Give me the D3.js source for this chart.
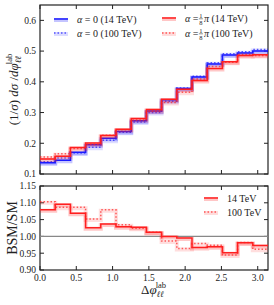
<!DOCTYPE html>
<html>
<head>
<meta charset="utf-8">
<script src="https://cdn.jsdelivr.net/npm/d3@7"></script>
<style>
  body { margin: 0; background: #fff; }
  svg text { font-family: "Liberation Serif", "DejaVu Serif", serif; fill: #222; }
</style>
</head>
<body>
<div id="chart"></div>
<script>
    // 数据
    var nBins = 15;
    var xTicks = [0.0, 0.5, 1.0, 1.5, 2.0, 2.5, 3.0];
    var yTopTicks = [0.1, 0.2, 0.3, 0.4, 0.5, 0.6];
    var yBotTicks = [0.90, 0.95, 1.00, 1.05, 1.10, 1.15];
    var blue14  = [0.137, 0.145, 0.171, 0.195, 0.216, 0.238, 0.273, 0.305, 0.342, 0.378, 0.416, 0.458, 0.487, 0.494, 0.500];
    var blue100 = [0.140, 0.152, 0.168, 0.187, 0.210, 0.236, 0.269, 0.300, 0.337, 0.380, 0.418, 0.462, 0.491, 0.498, 0.505];
    var red14   = [0.149, 0.158, 0.186, 0.201, 0.225, 0.246, 0.281, 0.310, 0.343, 0.376, 0.404, 0.443, 0.465, 0.486, 0.488];
    var red100  = [0.155, 0.166, 0.183, 0.197, 0.226, 0.244, 0.276, 0.304, 0.333, 0.366, 0.409, 0.450, 0.464, 0.489, 0.486];
    var ratio14  = [1.079, 1.096, 1.069, 1.026, 1.037, 1.029, 1.027, 1.012, 1.000, 0.995, 0.967, 0.969, 0.951, 0.981, 0.973];
    var ratio100 = [1.103, 1.087, 1.087, 1.052, 1.079, 1.035, 1.024, 1.012, 0.986, 0.964, 0.979, 0.974, 0.945, 0.982, 0.962];

    var BLUE = "#1a1aff", RED = "#ff1f1f";

    var svg = d3.select("#chart").append("svg").attr("width", 274).attr("height", 305);

    var x = d3.scaleLinear().domain([0, Math.PI]).range([40, 268]);
    var yTop = d3.scaleLinear().domain([0.1, 0.65]).range([174, 5]);
    var yBot = d3.scaleLinear().domain([0.9, 1.15]).range([270, 186]);

    function stepPoints(vals) {
      var pts = vals.map(function(v, i) { return [i * Math.PI / nBins, v]; });
      pts.push([Math.PI, vals[vals.length - 1]]);
      return pts;
    }

    function drawStep(g, y, vals, color, dotted) {
      var line = d3.line().curve(d3.curveStepAfter)
        .x(function(d) { return x(d[0]); })
        .y(function(d) { return y(d[1]); });
      var pts = stepPoints(vals);
      // 光晕
      g.append("path").attr("d", line(pts)).attr("fill", "none")
        .attr("stroke", color).attr("stroke-width", 4).attr("opacity", dotted ? 0.15 : 0.25)
        .attr("transform", "translate(0,1)");
      g.append("path").attr("d", line(pts)).attr("fill", "none")
        .attr("stroke", color).attr("stroke-width", 1.5)
        .attr("opacity", dotted ? 0.7 : 1)
        .attr("stroke-dasharray", dotted ? "1.5,2" : null);
    }

    function frame(y, y0, y1, ticks, fmt, showX) {
      var g = svg.append("g");
      g.append("rect").attr("x", 40).attr("y", y0).attr("width", 228).attr("height", y1 - y0)
        .attr("fill", "none").attr("stroke", "#222").attr("stroke-width", 1.2);
      g.selectAll(".xt").data(xTicks).enter().append("path")
        .attr("d", function(d) { return "M" + x(d) + "," + y1 + "v-4M" + x(d) + "," + y0 + "v4"; })
        .attr("stroke", "#222").attr("stroke-width", 1);
      g.selectAll(".yt").data(ticks).enter().append("path")
        .attr("d", function(d) { return "M40," + y(d) + "h4M268," + y(d) + "h-4"; })
        .attr("stroke", "#222").attr("stroke-width", 1);
      g.selectAll(".yl").data(ticks).enter().append("text")
        .attr("x", 36).attr("y", function(d) { return y(d) + 3.3; })
        .attr("text-anchor", "end").style("font-size", "9.5px")
        .text(function(d) { return d3.format(fmt)(d); });
      if (showX) {
        g.selectAll(".xl").data(xTicks).enter().append("text")
          .attr("x", function(d) { return x(d); }).attr("y", 281)
          .attr("text-anchor", "middle").style("font-size", "9.5px")
          .text(function(d) { return d3.format(".1f")(d); });
      }
    }

    // 上图
    frame(yTop, 5, 174, yTopTicks, ".1f", false);
    var topG = svg.append("g");
    drawStep(topG, yTop, blue100, BLUE, true);
    drawStep(topG, yTop, blue14, BLUE, false);
    drawStep(topG, yTop, red100, RED, true);
    drawStep(topG, yTop, red14, RED, false);

    // 下图
    frame(yBot, 186, 270, yBotTicks, ".2f", true);
    var botG = svg.append("g");
    botG.append("line").attr("x1", x(0)).attr("x2", x(Math.PI))
      .attr("y1", yBot(1)).attr("y2", yBot(1))
      .attr("stroke", "#888").attr("stroke-width", 1.3);
    drawStep(botG, yBot, ratio100, RED, true);
    drawStep(botG, yBot, ratio14, RED, false);

    // 图例
    function legendLine(x0, y0, color, dotted) {
      svg.append("line").attr("x1", x0).attr("x2", x0 + 14).attr("y1", y0 + 1).attr("y2", y0 + 1)
        .attr("stroke", color).attr("stroke-width", 4).attr("opacity", dotted ? 0.15 : 0.25);
      svg.append("line").attr("x1", x0).attr("x2", x0 + 14).attr("y1", y0).attr("y2", y0)
        .attr("stroke", color).attr("stroke-width", 1.5).attr("opacity", dotted ? 0.7 : 1)
        .attr("stroke-dasharray", dotted ? "1.5,2" : null);
    }
    function alphaLabel(x0, y0, frac, rest) {
      var t = svg.append("text").attr("x", x0).attr("y", y0 + 3.5).style("font-size", "10px");
      t.append("tspan").style("font-style", "italic").text("α");
      t.append("tspan").text(frac ? " = " : " = 0 " + rest);
      if (frac) {
        var w = t.node().getComputedTextLength();
        var fx = x0 + w + 2.5;
        svg.append("text").attr("x", fx).attr("y", y0 - 0.5).attr("text-anchor", "middle").style("font-size", "6.5px").text("1");
        svg.append("text").attr("x", fx).attr("y", y0 + 6.5).attr("text-anchor", "middle").style("font-size", "6.5px").text("8");
        svg.append("line").attr("x1", fx - 2).attr("x2", fx + 2).attr("y1", y0 + 0.8).attr("y2", y0 + 0.8)
          .attr("stroke", "#222").attr("stroke-width", 0.5);
        var t2 = svg.append("text").attr("x", fx + 3).attr("y", y0 + 3.5).style("font-size", "10px");
        t2.append("tspan").style("font-style", "italic").text("π");
        t2.append("tspan").text(" " + rest);
      }
    }
    legendLine(54, 19, BLUE, false); alphaLabel(77, 19, false, "(14 TeV)");
    legendLine(54, 33, BLUE, true);  alphaLabel(77, 33, false, "(100 TeV)");
    legendLine(162, 18, RED, false); alphaLabel(185, 18, true, "(14 TeV)");
    legendLine(162, 33, RED, true);  alphaLabel(185, 33, true, "(100 TeV)");

    legendLine(204, 198, RED, false);
    svg.append("text").attr("x", 227).attr("y", 201.5).style("font-size", "10px").text("14 TeV");
    legendLine(204, 212, RED, true);
    svg.append("text").attr("x", 227).attr("y", 215.5).style("font-size", "10px").text("100 TeV");

    // 轴标题
    var yl = svg.append("text").attr("transform", "translate(18,89.5) rotate(-90)")
      .attr("text-anchor", "middle").style("font-size", "13px");
    yl.append("tspan").text("(1/");
    yl.append("tspan").style("font-style", "italic").text("σ");
    yl.append("tspan").text(") ");
    yl.append("tspan").style("font-style", "italic").text("dσ");
    yl.append("tspan").text(" /");
    yl.append("tspan").style("font-style", "italic").text("dφ");
    yl.append("tspan").attr("dy", 3).style("font-size", "8.5px").style("font-style", "italic").text("ℓℓ");
    yl.append("tspan").attr("dx", -8).attr("dy", -9).style("font-size", "8.5px").text("lab");

    svg.append("text").attr("transform", "translate(17,228) rotate(-90)")
      .attr("text-anchor", "middle").style("font-size", "14px").text("BSM/SM");

    var xl = svg.append("text").attr("x", 141).attr("y", 294).style("font-size", "13px");
    xl.append("tspan").text("Δ");
    xl.append("tspan").style("font-style", "italic").text("φ");
    xl.append("tspan").attr("dy", 3).style("font-size", "8.5px").style("font-style", "italic").text("ℓℓ");
    xl.append("tspan").attr("dx", -8).attr("dy", -9).style("font-size", "8.5px").text("lab");
</script>
</body>
</html>
